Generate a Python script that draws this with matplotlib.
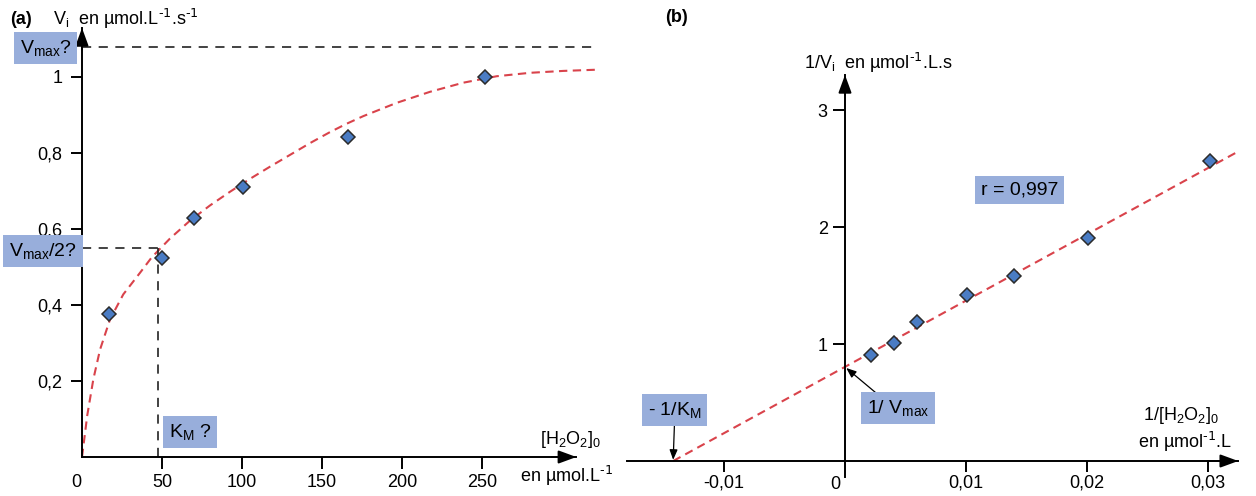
import matplotlib
matplotlib.use('Agg')
import matplotlib.pyplot as plt

plt.rcParams['font.family'] = ['Liberation Sans', 'DejaVu Sans']
plt.rcParams['mathtext.default'] = 'regular'
plt.rcParams['font.size'] = 13

# panel (a): initial rate vs substrate concentration
s_points = [17.1, 50.2, 70, 100.4, 166, 252]
v_points = [0.376, 0.523, 0.63, 0.711, 0.843, 0.999]

# fitted curve
curve_s = [0, 3.3, 7.1, 11.3, 17.5, 25.8, 36.3, 43.5, 55, 67.5, 80, 92.5, 105,
           117.5, 130, 142.5, 155, 165.4, 175.8, 196.7, 217.5, 238.3, 259.2,
           280, 300.8, 320.6]
curve_v = [0, 0.11, 0.205, 0.283, 0.362, 0.428, 0.485, 0.525, 0.575, 0.622, 0.662,
           0.698, 0.732, 0.764, 0.795, 0.826, 0.855, 0.877, 0.897, 0.932, 0.961,
           0.985, 1.002, 1.011, 1.016, 1.019]

vmax = 1.079
vmax_end = 322
half_vmax = 0.549
km = 47.7

xticks_a = [50, 100, 150, 200, 250]
yticks_a = [0.2, 0.4, 0.6, 0.8, 1.0]
ylabels_a = ['0,2', '0,4', '0,6', '0,8', '1']

# panel (b): Lineweaver-Burk
inv_s = [0.00215, 0.00405, 0.00595, 0.0101, 0.0140, 0.0201, 0.0302]
inv_v = [0.91, 1.01, 1.19, 1.42, 1.58, 1.906, 2.56]

fit_x = [-0.0142, 0.0324]
fit_y = [0.0, 2.64]
intercept_y = 0.795

xticks_b = [-0.01, 0.01, 0.02, 0.03]
xlabels_b = ['-0,01', '0,01', '0,02', '0,03']
yticks_b = [1, 2, 3]

RED = '#d9434b'
BLUE = '#4a7cc4'
BOX = '#98aedb'
W, H = 1256, 496
SUP = r'$^{\text{-1}}$'


def fx(x):
    return x / W


def fy(y):
    return 1 - y / H


def setup_axes(ax, xlim, ylim, xbounds, ybounds):
    ax.set_xlim(*xlim)
    ax.set_ylim(*ylim)
    for side in ['top', 'right']:
        ax.spines[side].set_visible(False)
    ax.spines['left'].set_position(('data', 0))
    ax.spines['bottom'].set_position(('data', 0))
    ax.spines['left'].set_bounds(*ybounds)
    ax.spines['bottom'].set_bounds(*xbounds)
    for side in ['left', 'bottom']:
        ax.spines[side].set_linewidth(1.4)
    ax.patch.set_alpha(0)
    head = dict(arrowstyle='-|>,head_length=0.6,head_width=0.22', color='k',
                lw=1.4, mutation_scale=18, shrinkA=0, shrinkB=0)
    span_x = xbounds[1] - xbounds[0]
    span_y = ybounds[1] - ybounds[0]
    ax.annotate('', xy=(xbounds[1], 0), xytext=(xbounds[1] - 0.05 * span_x, 0),
                arrowprops=head)
    ax.annotate('', xy=(0, ybounds[1]), xytext=(0, ybounds[1] - 0.05 * span_y),
                arrowprops=head)


fig = plt.figure(figsize=(12.56, 4.96), dpi=100)

# ---- panel (a)
ax1 = fig.add_axes([0, 0, 628 / W, 1])
setup_axes(ax1, (-51.25, 341.25), (-0.1026, 1.2026), (0, 309), (0, 1.129))
ax1.set_xticks(xticks_a)
ax1.set_yticks(yticks_a)
ax1.set_yticklabels(ylabels_a)
ax1.tick_params(axis='y', length=8, width=1.4, pad=6, labelsize=13)
ax1.tick_params(axis='x', length=8.5, width=1.4, pad=4, labelsize=13)

ax1.plot(curve_s, curve_v, color=RED, lw=1.5, dashes=(4, 2.6))
ax1.plot([0, vmax_end], [vmax, vmax], color='#222222', lw=1.2, dashes=(5.5, 4.5))
ax1.plot([0, km], [half_vmax, half_vmax], color='#222222', lw=1.2, dashes=(5.5, 4.5))
ax1.plot([km, km], [0, half_vmax], color='#222222', lw=1.2, dashes=(5.5, 4.5))
ax1.plot(s_points, v_points, 'D', ms=7, mfc=BLUE, mec='#2b2b2b', mew=1.1)
ax1.text(-3.75, -0.066, '0', ha='center', va='center', fontsize=13)

# ---- panel (b)
ax2 = fig.add_axes([628 / W, 0, 628 / W, 1])
setup_axes(ax2, (-0.017934, 0.033967), (-0.2991, 3.9402), (-0.018, 0.0325), (-0.14, 3.30))
ax2.set_xticks(xticks_b)
ax2.set_xticklabels(xlabels_b)
ax2.set_yticks(yticks_b)
ax2.tick_params(axis='y', length=8.5, width=1.4, pad=4, labelsize=13)
ax2.tick_params(axis='x', length=8, width=1.4, pad=2, labelsize=13)

ax2.plot(fit_x, fit_y, color=RED, lw=1.5, dashes=(4, 2.6))
ax2.plot(inv_s, inv_v, 'D', ms=7, mfc=BLUE, mec='#2b2b2b', mew=1.1)
ax2.text(-0.00083, -0.205, '0', ha='center', va='center', fontsize=13)

thin = dict(arrowstyle='-|>,head_length=0.5,head_width=0.2', color='k', lw=0.9,
            mutation_scale=12, shrinkA=0, shrinkB=0)
ax2.annotate('', xy=(0.0001, intercept_y), xytext=(0.0027, intercept_y - 0.225),
             arrowprops=thin)
ax2.annotate('', xy=(fit_x[0], 0.01), xytext=(fit_x[0] + 0.0001, 0.3),
             arrowprops=thin)

# ---- texts
box = dict(boxstyle='square,pad=0.3', fc=BOX, ec='none')
fig.text(fx(10), fy(19), '(a)', fontsize=13, fontweight='bold', va='center')
fig.text(fx(53), fy(19), r'V$_i$  en µmol.L' + SUP + '.s' + SUP, fontsize=13, va='center')
fig.text(fx(20), fy(48), r'V$_{max}$?', fontsize=14, va='center', bbox=box)
fig.text(fx(9), fy(251), r'V$_{max}$/2?', fontsize=14, va='center', bbox=box)
fig.text(fx(169), fy(432), r'K$_M$ ?', fontsize=14, va='center', bbox=box)
fig.text(fx(540), fy(440), r'[H$_2$O$_2$]$_0$', fontsize=13, va='center')
fig.text(fx(520), fy(476), r'en µmol.L' + SUP, fontsize=13, va='center')

fig.text(fx(665), fy(18), '(b)', fontsize=13, fontweight='bold', va='center')
fig.text(fx(804), fy(63), r'1/V$_i$  en µmol' + SUP + '.L.s', fontsize=13, va='center')
fig.text(fx(981), fy(190), 'r = 0,997', fontsize=14, va='center', bbox=box)
fig.text(fx(867), fy(408), r'1/ V$_{max}$', fontsize=14, va='center', bbox=box)
fig.text(fx(648), fy(410), r'- 1/K$_M$', fontsize=14, va='center', bbox=box)
fig.text(fx(1143), fy(415), r'1/[H$_2$O$_2$]$_0$', fontsize=13, va='center')
fig.text(fx(1138), fy(442), r'en µmol' + SUP + '.L', fontsize=13, va='center')

fig.savefig('out.png', dpi=100)
